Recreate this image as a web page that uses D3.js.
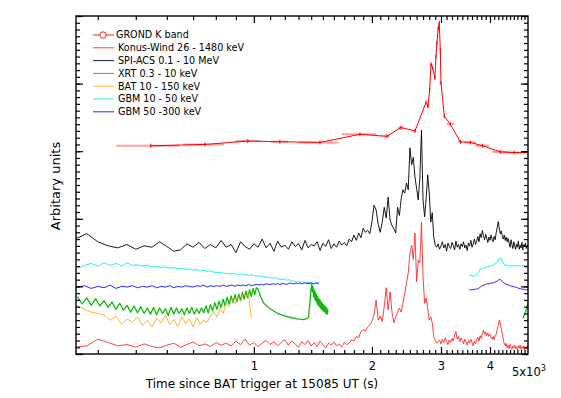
<!DOCTYPE html>
<html>
<head>
<meta charset="utf-8">
<script src="https://cdn.jsdelivr.net/npm/d3@7"></script>
<style>
body { margin: 0; background: #fff; }
text { font-family: "DejaVu Sans", sans-serif; fill: #000; }
</style>
</head>
<body>
<div id="chart"></div>
<script>
// time is seconds since the BAT trigger, fluxes in arbitrary (offset) units

// GROND K band points, with the half width of each time bin
var grondT = [546, 750, 965, 1165, 1474, 1864, 2184, 2371, 2575, 2747, 2779, 2807, 2829, 2857, 2895, 2912, 2929, 2952, 2970, 2988, 3000, 3059, 3168, 3360, 3563, 3832, 4250, 4606, 5200];
var grondK = [3.08, 3.10, 3.15, 3.14, 3.13, 3.25, 3.22, 3.35, 3.30, 3.72, 3.66, 3.91, 4.29, 4.23, 4.08, 4.40, 4.60, 4.82, 4.90, 4.50, 4.01, 3.52, 3.40, 3.14, 3.13, 3.08, 2.99, 2.98, 2.98];
var grondTErr = [100, 90, 70, 60, 170, 190, 40, 40, 20, 5, 5, 5, 5, 5, 5, 5, 5, 5, 5, 5, 5, 10, 70, 40, 120, 150, 200, 350, 0];

// Konus-Wind, 25 s bins from 350 s
var konusT0 = 350, konusDt = 25;
var konus = [
  0.10, 0.12, 0.22, 0.17, 0.12, 0.14, 0.10, 0.15, 0.11, 0.09,
  0.13, 0.16, 0.10, 0.14, 0.18, 0.12, 0.15, 0.11, 0.17, 0.13,
  0.16, 0.12, 0.19, 0.14, 0.22, 0.13, 0.17, 0.11, 0.16, 0.20,
  0.14, 0.18, 0.12, 0.17, 0.21, 0.13, 0.19, 0.15, 0.10, 0.18,
  0.14, 0.20, 0.12, 0.17, 0.11, 0.19, 0.14, 0.09, 0.16, 0.13,
  0.18, 0.12, 0.15, 0.10, 0.17, 0.14,
  // 1750 s
  0.16, 0.21, 0.19, 0.26, 0.24, 0.33, 0.36, 0.34, 0.40, 0.43,
  0.48, 0.58, 0.80, 0.50, 0.56, 0.48, 0.70, 0.98, 0.65, 0.92,
  0.62, 0.46, 0.55, 0.61, 0.68, 0.62, 0.75, 0.90, 1.05, 1.20,
  1.49, 1.61, 1.40, 1.79, 1.07, 1.39, 1.35, 1.95, 1.14, 0.75,
  0.83, 0.68, 0.50, 0.55, 0.46, 0.26, 0.20, 0.16,
  // 2950 s
  0.18, 0.21, 0.15, 0.22, 0.17, 0.24, 0.19, 0.14, 0.21, 0.17,
  0.23, 0.19, 0.28, 0.33, 0.22, 0.26, 0.18, 0.24, 0.20, 0.15,
  0.22, 0.18, 0.13, 0.20, 0.16, 0.22, 0.17, 0.12, 0.19, 0.15,
  0.21, 0.25, 0.19, 0.27, 0.23, 0.30, 0.35, 0.29, 0.33, 0.27,
  0.31, 0.26, 0.29, 0.24, 0.22, 0.26, 0.21, 0.27, 0.30, 0.36,
  0.42, 0.50, 0.45, 0.36, 0.30, 0.22, 0.15, 0.12, 0.16, 0.09,
  0.13, 0.08, 0.14, 0.10, 0.07, 0.12, 0.09, 0.13, 0.08, 0.11,
  0.06, 0.12, 0.09, 0.13, 0.07, 0.11, 0.08, 0.12, 0.06, 0.10,
  0.08, 0.12, 0.09
];

// SPI-ACS, 25 s bins from 350 s
var spiT0 = 350, spiDt = 25;
var spi = [
  1.70, 1.78, 1.66, 1.60, 1.57, 1.62, 1.55, 1.60, 1.58, 1.66,
  1.59, 1.52, 1.54, 1.63, 1.58, 1.65, 1.56, 1.62, 1.57, 1.68,
  1.58, 1.62, 1.50, 1.66, 1.59, 1.55, 1.63, 1.58, 1.70, 1.57,
  1.64, 1.52, 1.67, 1.58, 1.61, 1.55, 1.66, 1.59, 1.63, 1.54,
  1.68, 1.57, 1.62, 1.60, 1.66, 1.53, 1.64, 1.59, 1.69, 1.56,
  1.63, 1.58, 1.67, 1.61, 1.65, 1.60, 1.70, 1.66,
  // 1800 s
  1.76, 1.68, 1.79, 1.72, 1.86, 1.80, 1.83, 1.78, 1.95, 2.20,
  2.13, 1.92, 1.80, 1.95, 2.17, 2.01, 2.32, 1.98, 1.90, 1.85,
  1.79, 2.17, 2.05, 2.30, 2.43, 2.38, 2.53, 2.43, 3.05, 2.80,
  2.91, 2.62, 2.45, 2.28, 2.60, 3.31, 2.28, 2.03, 2.30, 2.65,
  2.38, 1.95, 2.09, 1.73, 1.61,
  // 2925 s
  1.58, 1.63, 1.55, 1.60, 1.66, 1.57, 1.62, 1.52, 1.64, 1.59,
  1.56, 1.65, 1.60, 1.54, 1.67, 1.58, 1.62, 1.55, 1.63, 1.59,
  1.66, 1.57, 1.61, 1.53, 1.64, 1.60, 1.68, 1.58, 1.63, 1.70,
  1.62, 1.67, 1.74, 1.66, 1.78, 1.72, 1.83, 1.75, 1.69, 1.77,
  1.71, 1.65, 1.73, 1.68, 1.76, 1.70, 1.66, 1.74, 1.69, 1.80,
  1.88, 1.96, 1.85, 1.78, 1.82, 1.74, 1.70, 1.76, 1.68, 1.73,
  1.66, 1.71, 1.64, 1.58, 1.69, 1.62, 1.56, 1.66, 1.60, 1.55,
  1.63, 1.58, 1.67, 1.55, 1.61, 1.57, 1.65, 1.54, 1.62, 1.59,
  1.64, 1.56, 1.61, 1.60
];

// XRT: early binned part, the decay, the flare, and the late start
var xrtEarlyT0 = 355, xrtEarlyDt = 10;
var xrtEarly = [
  0.85, 0.74, 0.83, 0.72, 0.82, 0.71, 0.79, 0.69, 0.77, 0.66,
  0.75, 0.65, 0.72, 0.62, 0.71, 0.61, 0.70, 0.60, 0.68, 0.59,
  0.69, 0.58, 0.68, 0.60, 0.67, 0.57, 0.69, 0.59, 0.68, 0.60,
  0.67, 0.58, 0.68, 0.60, 0.69, 0.59, 0.67, 0.60, 0.68, 0.61,
  0.71, 0.61, 0.73, 0.64, 0.76, 0.66, 0.78, 0.69, 0.81, 0.71,
  0.84, 0.74, 0.86, 0.76, 0.88, 0.77, 0.89, 0.79, 0.91, 0.81,
  0.93, 0.83, 0.95, 0.85, 0.97, 0.88, 0.98
];
var xrtDecayT = [1025, 1040, 1060, 1100, 1150, 1200, 1243, 1290, 1341, 1372];
var xrtDecay = [0.96, 0.85, 0.75, 0.67, 0.60, 0.56, 0.54, 0.52, 0.51, 0.53];
var xrtFlareT0 = 1380, xrtFlareDt = 5;
var xrtFlare = [
  0.56, 0.68, 0.76, 0.90, 0.97, 1.04, 0.92, 1.00, 0.85, 0.95,
  0.81, 0.91, 0.78, 0.88, 0.74, 0.85, 0.72, 0.82, 0.70, 0.80,
  0.68, 0.77, 0.66, 0.75, 0.64, 0.73, 0.63, 0.71, 0.61, 0.70,
  0.60, 0.68, 0.59, 0.66
];
var xrtLateT = [4850, 4900, 4950, 5000, 5060];
var xrtLate = [0.53, 0.58, 0.66, 0.76, 0.86];

// BAT, 15 s bins from 355 s
var batT0 = 355, batDt = 15;
var bat = [
  0.72, 0.66, 0.62, 0.60, 0.58, 0.50, 0.56, 0.44, 0.52, 0.47,
  0.55, 0.42, 0.50, 0.40, 0.53, 0.46, 0.58, 0.44, 0.51, 0.41,
  0.55, 0.45, 0.52, 0.40, 0.54, 0.44, 0.50, 0.47, 0.56, 0.62,
  0.55, 0.68, 0.60, 0.75, 0.70, 0.80, 0.74, 0.85, 0.78, 0.90,
  0.86, 0.88, 0.53
];

// GBM, two stretches of data
var gbmLeftT0 = 355, gbmLeftDt = 15;
var gbmRightT0 = 3540, gbmRightDt = 40;
var gbmLoLeft = [
  1.27, 1.31, 1.34, 1.30, 1.35, 1.31, 1.34, 1.30, 1.35, 1.31,
  1.32, 1.30, 1.31, 1.29, 1.30, 1.28, 1.29, 1.27, 1.28, 1.26,
  1.27, 1.25, 1.26, 1.24, 1.25, 1.23, 1.24, 1.22, 1.23, 1.21,
  1.21, 1.20, 1.20, 1.19, 1.19, 1.18, 1.19, 1.17, 1.18, 1.17,
  1.17, 1.16, 1.17, 1.16, 1.15, 1.16, 1.15, 1.14, 1.14, 1.13,
  1.13, 1.12, 1.13, 1.11, 1.11, 1.10, 1.11, 1.09, 1.10, 1.09,
  1.08, 1.08, 1.07, 1.07, 1.06, 1.07, 1.06, 1.05, 1.06, 1.05,
  1.05, 1.04, 1.05, 1.04, 1.04
];
var gbmLoRight = [
  1.17, 1.16, 1.15, 1.15, 1.17, 1.20, 1.26, 1.25, 1.28, 1.27,
  1.30, 1.29, 1.31, 1.30, 1.33, 1.34, 1.37, 1.41, 1.42, 1.37,
  1.33, 1.31, 1.32, 1.30, 1.31, 1.30, 1.31, 1.30, 1.31, 1.31,
  1.30, 1.31, 1.30, 1.31, 1.31, 1.30, 1.31, 1.30
];
var gbmHiLeft = [
  0.99, 1.01, 0.97, 1.00, 0.98, 1.02, 0.97, 1.00, 0.99, 1.01,
  0.98, 1.00, 0.99, 1.01, 0.98, 1.00, 0.99, 1.01, 0.98, 1.00,
  0.99, 1.01, 1.00, 0.99, 1.01, 1.00, 1.02, 0.99, 1.01, 1.00,
  1.01, 1.00, 1.02, 1.00, 1.01, 1.02, 1.00, 1.02, 1.01, 1.02,
  1.01, 1.03, 1.01, 1.02, 1.03, 1.02, 1.03, 1.02, 1.04, 1.03,
  1.03, 1.04, 1.03, 1.04, 1.03, 1.04, 1.04, 1.03, 1.04, 1.05,
  1.04, 1.04, 1.05, 1.04, 1.05, 1.04, 1.05, 1.05, 1.04, 1.05,
  1.05, 1.04, 1.05, 1.05, 1.05
];
var gbmHiRight = [
  0.95, 0.95, 0.95, 0.96, 0.96, 0.97, 0.99, 1.01, 1.02, 1.03,
  1.04, 1.04, 1.05, 1.05, 1.06, 1.07, 1.08, 1.10, 1.10, 1.07,
  1.05, 1.04, 1.03, 1.02, 1.01, 1.00, 1.00, 0.99, 0.99, 0.98,
  0.97, 0.97, 0.96, 0.96, 0.95, 0.95, 0.95, 0.94
];

var legendLabels = ["GROND K band", "Konus-Wind 26 - 1480 keV", "SPI-ACS 0.1 - 10 MeV", "XRT 0.3 - 10 keV", "BAT 10 - 150 keV", "GBM 10 - 50 keV", "GBM 50 -300 keV"];
var legendColors = ["#ff0000", "#ff2a2a", "#000000", "#12b812", "#ffa820", "#00f0f0", "#1010ff"];

var xMajor = [1000, 2000, 3000, 4000];
var xMinor = d3.range(400, 5000, 100).filter(function(d){ return d % 1000 != 0; });

// ---- layout ----
var margin = {top: 16, right: 33, bottom: 44, left: 76};
var width = 561 - margin.left - margin.right;
var height = 398 - margin.top - margin.bottom;

var svg = d3.select("#chart")
  .append("svg")
    .attr("width", width + margin.left + margin.right)
    .attr("height", height + margin.top + margin.bottom)
  .append("g")
    .attr("transform", "translate(" + margin.left + "," + margin.top + ")");

var x = d3.scaleLog().domain([352, 5000]).range([0, width]);
var y = d3.scaleLinear().domain([0, 5]).range([height, 0]);

svg.append("clipPath").attr("id", "plotclip")
  .append("rect").attr("width", width).attr("height", height);

var plot = svg.append("g").attr("clip-path", "url(#plotclip)");

function binned(t0, dt, vals){
  return vals.map(function(v, i){ return [t0 + i * dt, v]; });
}
function paired(ts, vals){
  return ts.map(function(t, i){ return [t, vals[i]]; });
}

var line = d3.line()
  .x(function(d){ return x(d[0]); })
  .y(function(d){ return y(d[1]); });

var curves = [
  {color: legendColors[5], w: 0.9, segs: [binned(gbmLeftT0, gbmLeftDt, gbmLoLeft), binned(gbmRightT0, gbmRightDt, gbmLoRight)]},
  {color: legendColors[6], w: 0.9, segs: [binned(gbmLeftT0, gbmLeftDt, gbmHiLeft), binned(gbmRightT0, gbmRightDt, gbmHiRight)]},
  {color: legendColors[3], w: 1.3, segs: [
      binned(xrtEarlyT0, xrtEarlyDt, xrtEarly)
        .concat(paired(xrtDecayT, xrtDecay))
        .concat(binned(xrtFlareT0, xrtFlareDt, xrtFlare)),
      paired(xrtLateT, xrtLate)]},
  {color: legendColors[4], w: 0.9, segs: [binned(batT0, batDt, bat)]},
  {color: legendColors[1], w: 0.9, segs: [binned(konusT0, konusDt, konus)]},
  {color: legendColors[2], w: 0.9, segs: [binned(spiT0, spiDt, spi)]}
];

curves.forEach(function(c){
  plot.selectAll(null)
    .data(c.segs)
    .enter()
    .append("path")
      .attr("d", line)
      .attr("fill", "none")
      .attr("stroke", c.color)
      .attr("stroke-width", c.w)
      .attr("stroke-linejoin", "round");
});

// GROND: time error bars, line and small point marks
var grond = grondT.map(function(t, i){ return {t: t, v: grondK[i], e: grondTErr[i]}; });

plot.selectAll(".gerr")
  .data(grond.filter(function(d){ return d.e > 0; }))
  .enter()
  .append("line")
    .attr("x1", function(d){ return x(d.t - d.e); })
    .attr("x2", function(d){ return x(d.t + d.e); })
    .attr("y1", function(d){ return y(d.v); })
    .attr("y2", function(d){ return y(d.v); })
    .attr("stroke", "#ff9c9c")
    .attr("stroke-width", 2);

plot.append("path")
  .attr("d", line(grond.map(function(d){ return [d.t, d.v]; })))
  .attr("fill", "none")
  .attr("stroke", "#ff0000")
  .attr("stroke-width", 1);

plot.selectAll(".gpt")
  .data(grond)
  .enter()
  .append("line")
    .attr("x1", function(d){ return x(d.t); })
    .attr("x2", function(d){ return x(d.t); })
    .attr("y1", function(d){ return y(d.v) - 2; })
    .attr("y2", function(d){ return y(d.v) + 2; })
    .attr("stroke", "#ff0000")
    .attr("stroke-width", 1);

// ---- axes: inward ticks on all four sides ----
function styleAxis(g){
  g.select(".domain").remove();
  g.selectAll(".tick line").attr("stroke", "#000").attr("stroke-width", 1.2);
  g.selectAll("text").style("font-family", "DejaVu Sans").style("font-size", "11.5px");
}

svg.append("g").attr("transform", "translate(0," + height + ")")
  .call(d3.axisBottom(x).tickValues(xMinor).tickSize(-4).tickFormat("")).call(styleAxis);
svg.append("g").attr("transform", "translate(0," + height + ")")
  .call(d3.axisBottom(x).tickValues(xMajor).tickSize(-7).tickPadding(8)
    .tickFormat(function(d){ return d / 1000; })).call(styleAxis);
svg.append("g")
  .call(d3.axisTop(x).tickValues(xMinor).tickSize(-4).tickFormat("")).call(styleAxis);
svg.append("g")
  .call(d3.axisTop(x).tickValues(xMajor).tickSize(-7).tickFormat("")).call(styleAxis);

var yMinor = d3.range(0, 51).map(function(d){ return d / 10; });
var yMajor = d3.range(0, 6);
svg.append("g").call(d3.axisLeft(y).tickValues(yMinor).tickSize(-4).tickFormat("")).call(styleAxis);
svg.append("g").call(d3.axisLeft(y).tickValues(yMajor).tickSize(-7).tickFormat("")).call(styleAxis);
svg.append("g").attr("transform", "translate(" + width + ",0)")
  .call(d3.axisRight(y).tickValues(yMinor).tickSize(-4).tickFormat("")).call(styleAxis);
svg.append("g").attr("transform", "translate(" + width + ",0)")
  .call(d3.axisRight(y).tickValues(yMajor).tickSize(-7).tickFormat("")).call(styleAxis);

svg.append("rect")
  .attr("width", width).attr("height", height)
  .attr("fill", "none").attr("stroke", "#000").attr("stroke-width", 1.4);

// last tick label written as 5x10^3
var lastLab = svg.append("text")
  .attr("x", x(5000) - 16)
  .attr("y", height + 22)
  .style("font-size", "11.5px");
lastLab.append("tspan").text("5x10");
lastLab.append("tspan").attr("dy", -5).style("font-size", "8px").text("3");

svg.append("text")
  .attr("x", 262 - margin.left)
  .attr("y", 388 - margin.top)
  .attr("text-anchor", "middle")
  .style("font-size", "12px")
  .text("Time since BAT trigger at 15085 UT (s)");

svg.append("text")
  .attr("transform", "translate(" + (60 - margin.left) + "," + (186 - margin.top) + ") rotate(-90)")
  .attr("text-anchor", "middle")
  .style("font-size", "13px")
  .text("Arbitary units");

// ---- legend ----
var legend = svg.append("g").attr("transform", "translate(" + (93 - margin.left) + "," + (35 - margin.top) + ")");
var rows = legend.selectAll("g")
  .data(legendLabels)
  .enter()
  .append("g")
    .attr("transform", function(d, i){ return "translate(0," + i * 12.8 + ")"; });

rows.append("line")
  .attr("x1", 0).attr("x2", 21)
  .attr("stroke", function(d, i){ return legendColors[i]; })
  .attr("stroke-width", 0.9);

rows.filter(function(d, i){ return i == 0; })
  .append("circle")
    .attr("cx", 10).attr("r", 3.2)
    .attr("fill", "#fff").attr("stroke", "#ff0000").attr("stroke-width", 0.9);

rows.append("text")
  .attr("x", function(d, i){ return i == 0 ? 23 : 25; })
  .attr("dy", "0.35em")
  .style("font-size", "9.6px")
  .text(function(d){ return d; });
</script>
</body>
</html>
